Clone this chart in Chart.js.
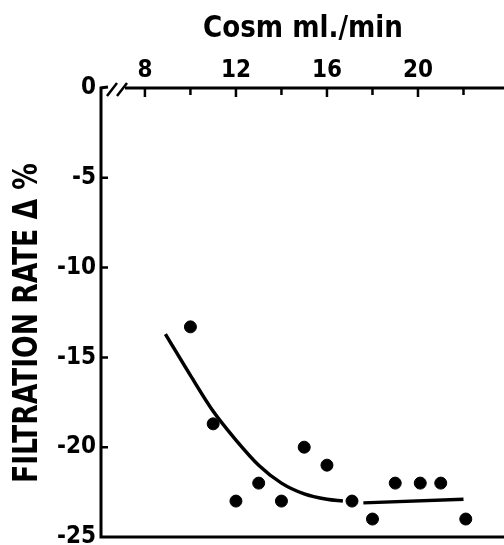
<!DOCTYPE html>
<html>
<head>
<meta charset="utf-8">
<script src="https://cdn.jsdelivr.net/npm/chart.js@4.4.1/dist/chart.umd.min.js"></script>
<style>
  html, body { margin: 0; padding: 0; background: #fff; }
</style>
</head>
<body>
<canvas id="filtrationChart" width="504" height="545"></canvas>
<script>
// tick values
const xTicks = [8, 10, 12, 14, 16, 18, 20, 22];
const xLabelled = [8, 12, 16, 20];
const yTicks = [0, -5, -10, -15, -20, -25];

// measured points
const cosm = [10, 11, 12, 13, 14, 15, 16, 17.1, 18, 19, 20.1, 21, 22.1];
const filtration = [-13.3, -18.7, -23, -22, -23, -20, -21, -23, -24, -22, -22, -22, -24];

// hand-drawn curve through the first group
const curveX = [8.9, 10, 11, 12, 13, 14, 15, 16, 16.7];
const curveY = [-13.7, -16.0, -18.0, -19.6, -21.0, -22.0, -22.6, -22.9, -23.0];

// flat line through the second group
const flatX = [17.6, 22];
const flatY = [-23.1, -22.9];

const xTitle = 'Cosm ml./min';
const yTitle = 'FILTRATION RATE \u0394 %';

const FONT = '"DejaVu Sans Condensed", "Liberation Sans Narrow", "DejaVu Sans", sans-serif';

function toXY(xs, ys) {
    return xs.map((x, i) => ({ x: x, y: ys[i] }));
}

// draw text squeezed/stretched to a given width
function fitText(ctx, text, x, y, width, size, rotate) {
    ctx.save();
    ctx.font = 'bold ' + size + 'px ' + FONT;
    ctx.fillStyle = '#000';
    ctx.textAlign = 'left';
    ctx.textBaseline = 'alphabetic';
    let w = ctx.measureText(text).width;
    ctx.translate(x, y);
    if (rotate) ctx.rotate(-Math.PI / 2);
    ctx.scale(width / w, 1);
    ctx.fillText(text, 0, 0);
    ctx.restore();
}

function noPadding(scale) {
    scale.paddingTop = 0;
    scale.paddingBottom = 0;
    scale.paddingLeft = 0;
    scale.paddingRight = 0;
}

const axesPlugin = {
    id: 'axesPlugin',
    afterDraw(chart) {
        const ctx = chart.ctx;
        const area = chart.chartArea;
        const xs = chart.scales.x;
        const ys = chart.scales.y;
        ctx.save();
        ctx.strokeStyle = '#000';
        ctx.lineWidth = 3;
        ctx.lineCap = 'butt';

        // left and bottom lines
        ctx.beginPath();
        ctx.moveTo(area.left, area.top - 1);
        ctx.lineTo(area.left, area.bottom);
        ctx.lineTo(area.right, area.bottom);
        ctx.stroke();

        // top line with the axis break
        ctx.beginPath();
        ctx.moveTo(area.left - 1, area.top);
        ctx.lineTo(area.left + 7, area.top - 1);
        ctx.moveTo(area.left + 24, area.top);
        ctx.lineTo(area.right, area.top);
        ctx.stroke();
        ctx.lineWidth = 2.5;
        ctx.beginPath();
        ctx.moveTo(area.left + 6, area.top + 8);
        ctx.lineTo(area.left + 16, area.top - 5);
        ctx.moveTo(area.left + 16, area.top + 8);
        ctx.lineTo(area.left + 26, area.top - 5);
        ctx.stroke();

        // tick marks pointing inward
        ctx.lineWidth = 2.5;
        ctx.beginPath();
        xTicks.forEach(v => {
            let px = xs.getPixelForValue(v);
            ctx.moveTo(px, area.top);
            ctx.lineTo(px, area.top + (xLabelled.includes(v) ? 9 : 7));
        });
        yTicks.forEach(v => {
            if (v === 0 || v === -25) return;
            let py = ys.getPixelForValue(v);
            ctx.moveTo(area.left, py);
            ctx.lineTo(area.left + 7, py);
        });
        ctx.stroke();
        ctx.restore();

        // titles
        fitText(ctx, xTitle, 203, 37, 200, 30, false);
        fitText(ctx, yTitle, 37, 483, 320, 33, true);
    }
};

let ctx = document.getElementById('filtrationChart').getContext('2d');
let filtrationChart = new Chart(ctx, {
    type: 'scatter',
    data: {
        datasets: [{
            label: 'Measured',
            data: toXY(cosm, filtration),
            backgroundColor: '#000',
            borderColor: '#000',
            pointRadius: 6,
            pointHoverRadius: 6,
            clip: false
        }, {
            label: 'Curve',
            type: 'line',
            data: toXY(curveX, curveY),
            borderColor: '#000',
            borderWidth: 3.5,
            pointRadius: 0,
            fill: false,
            cubicInterpolationMode: 'monotone'
        }, {
            label: 'Flat',
            type: 'line',
            data: toXY(flatX, flatY),
            borderColor: '#000',
            borderWidth: 3.5,
            pointRadius: 0,
            fill: false
        }]
    },
    options: {
        responsive: false,
        animation: false,
        events: [],
        layout: {
            autoPadding: false,
            padding: { left: 0, right: 0, top: 0, bottom: 8 }
        },
        plugins: {
            legend: { display: false },
            tooltip: { enabled: false }
        },
        scales: {
            x: {
                type: 'linear',
                position: 'top',
                min: 6.07,
                max: 23.78,
                afterFit: function(scale) { scale.height = 88; noPadding(scale); },
                afterBuildTicks: function(scale) {
                    scale.ticks = xTicks.map(v => ({ value: v }));
                },
                grid: { display: false, drawTicks: false },
                border: { display: false },
                ticks: {
                    padding: 3,
                    maxRotation: 0,
                    autoSkip: false,
                    color: '#000',
                    font: { family: FONT, size: 24, weight: 'bold' },
                    callback: function(value) {
                        return xLabelled.includes(value) ? String(value) : '';
                    }
                }
            },
            y: {
                type: 'linear',
                min: -25,
                max: 0,
                afterFit: function(scale) { scale.width = 101; noPadding(scale); },
                afterBuildTicks: function(scale) {
                    scale.ticks = yTicks.map(v => ({ value: v }));
                },
                grid: { display: false, drawTicks: false },
                border: { display: false },
                ticks: {
                    padding: 5,
                    autoSkip: false,
                    color: '#000',
                    font: { family: FONT, size: 24, weight: 'bold' }
                }
            }
        }
    },
    plugins: [axesPlugin]
});
</script>
</body>
</html>
